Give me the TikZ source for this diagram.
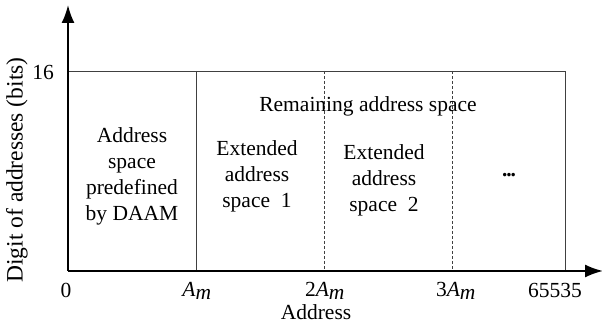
\documentclass[tikz,border=0pt]{standalone}
\usepackage{fontspec}
\setmainfont{Liberation Serif}
\usetikzlibrary{arrows.meta}

\begin{document}
\begin{tikzpicture}[x=1pt,y=-1pt,
    ax/.style={line width=2pt,-{Latex[length=18pt,width=13pt]}},
    sep/.style={draw=black!75,line width=0.9pt},
    dsep/.style={sep,densely dashed},
    t/.style={font=\fontsize{21.5}{26}\selectfont,align=center,inner sep=0pt}]
        \useasboundingbox (0,0) rectangle (602,328);
        \coordinate (o) at (68,271);
        \coordinate (ytop) at (68,5);
        \coordinate (xend) at (603,271);

        % region borders
        \draw[sep] (68,71) -- (565,71) -- (565,271);
        \draw[sep] (196,71) -- (196,271);
        \draw[dsep] (324,71) -- (324,271);
        \draw[dsep] (452,71) -- (452,271);

        % axes
        \draw[ax] (o) -- (ytop);
        \draw[ax] (o) -- (xend);

        % ticks
        \node[t] (l16) at (43,72) {16};
        \node[t] (l0) at (66,290) {0};
        \node[t] (l1) at (197,291) {$\textit{A}_{\textit{m}}$};
        \node[t] (l2) at (325,291) {2$\textit{A}_{\textit{m}}$};
        \node[t] (l3) at (456,291) {3$\textit{A}_{\textit{m}}$};
        \node[t] (l4) at (555,290) {65535};
        \node[t] (xl) at (316,312) {Address};
        \node[t,rotate=90,font=\fontsize{23.5}{28}\selectfont] (yl) at (17,170) {Digit of addresses (bits)};

        % regions
        \node[t] (daam) at (132,176) {Address\\space\\predefined\\by DAAM};
        \node[t] (rest) at (368,106) {Remaining address space};
        \node[t] (ext1) at (257,176) {Extended\\address\\space~~1};
        \node[t] (ext2) at (384,180) {Extended\\address\\space~~2};
        \node[t,font=\fontsize{21.5}{26}\selectfont\bfseries] (dots) at (509,175) {.\kern-1.2pt.\kern-1.2pt.};
    \end{tikzpicture}
\end{document}
